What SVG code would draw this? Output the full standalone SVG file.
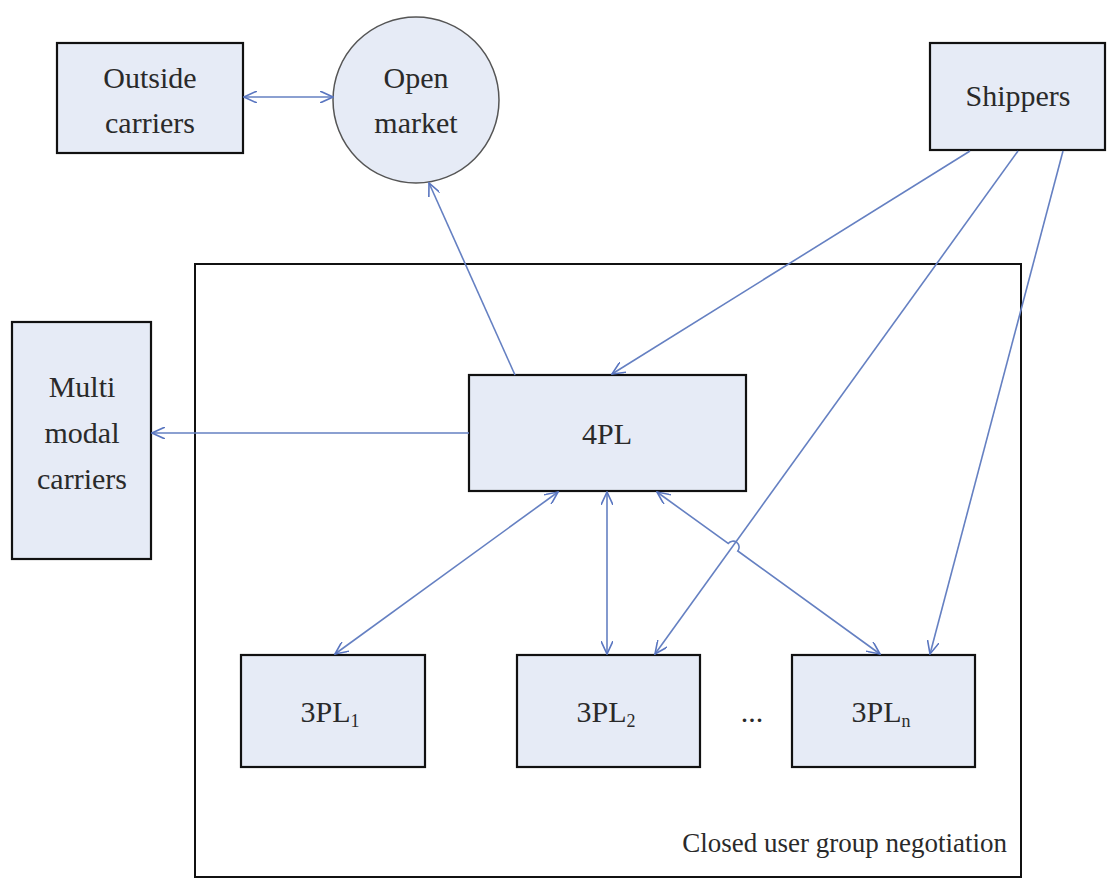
<svg xmlns="http://www.w3.org/2000/svg" width="1107" height="882" viewBox="0 0 1107 882">
  <style>
    .box { fill: #e6ebf6; stroke: #111; stroke-width: 2.2; }
    .frame { fill: none; stroke: #111; stroke-width: 2; }
    .oval { fill: #e6ebf6; stroke: #555; stroke-width: 1.5; }
    .lbl { font-family: "Liberation Serif", "Times New Roman", serif; font-size: 30px; fill: #2a2a2a; text-anchor: middle; }
    .note { font-family: "Liberation Serif", "Times New Roman", serif; font-size: 27px; fill: #2a2a2a; text-anchor: end; }
    .sub { font-size: 18px; }
    .link { fill: none; stroke: #6580c2; stroke-width: 1.6; }
  </style>
  <defs>
    <marker id="ah" viewBox="0 0 14 12" refX="13" refY="6" markerWidth="14" markerHeight="12" markerUnits="userSpaceOnUse" orient="auto-start-reverse">
      <path d="M0,0 L13,6 L0,12" fill="none" stroke="#5a76c0" stroke-width="1.6"/>
    </marker>
  </defs>

  <rect id="rect-background" x="0" y="0" width="1107" height="882" fill="#ffffff"/>

  <!-- closed negotiation frame -->
  <g id="closed-group">
    <rect class="frame" x="195" y="264" width="826" height="613"/>
    <text class="note" x="1007" y="852">Closed user group negotiation</text>
  </g>

  <g id="outside-carriers">
    <rect class="box" x="57" y="43" width="186" height="110"/>
    <text class="lbl" x="150" y="88">Outside</text>
    <text class="lbl" x="150" y="133">carriers</text>
  </g>

  <g id="open-market">
    <circle class="oval" cx="416" cy="100" r="83"/>
    <text class="lbl" x="416" y="88">Open</text>
    <text class="lbl" x="416" y="133">market</text>
  </g>

  <g id="shippers">
    <rect class="box" x="930" y="43" width="175" height="107"/>
    <text class="lbl" x="1018" y="106">Shippers</text>
  </g>

  <g id="multimodal-carriers">
    <rect class="box" x="12" y="322" width="139" height="237"/>
    <text class="lbl" x="82" y="397">Multi</text>
    <text class="lbl" x="82" y="443">modal</text>
    <text class="lbl" x="82" y="489">carriers</text>
  </g>

  <g id="fourpl">
    <rect class="box" x="469" y="375" width="277" height="116"/>
    <text class="lbl" x="607" y="444">4PL</text>
  </g>

  <g id="threepl-1">
    <rect class="box" x="241" y="655" width="184" height="112"/>
    <text class="lbl" x="330" y="722">3PL<tspan class="sub" dy="5">1</tspan></text>
  </g>

  <g id="threepl-2">
    <rect class="box" x="517" y="655" width="183" height="112"/>
    <text class="lbl" x="606" y="722">3PL<tspan class="sub" dy="5">2</tspan></text>
  </g>

  <g id="threepl-ellipsis">
    <text class="lbl" x="752" y="722">...</text>
  </g>

  <g id="threepl-n">
    <rect class="box" x="792" y="655" width="183" height="112"/>
    <text class="lbl" x="881" y="722">3PL<tspan class="sub" dy="5">n</tspan></text>
  </g>

  <g id="connectors">
    <!-- outside carriers <-> open market -->
    <line class="link" x1="244" y1="97" x2="333" y2="97" marker-start="url(#ah)" marker-end="url(#ah)"/>
    <!-- 4PL -> open market -->
    <line class="link" x1="515" y1="375" x2="429" y2="183" marker-end="url(#ah)"/>
    <!-- 4PL -> multimodal carriers -->
    <line class="link" x1="469" y1="433" x2="152" y2="433" marker-end="url(#ah)"/>
    <!-- shippers -> 4PL, 3PL2, 3PLn -->
    <line class="link" x1="970" y1="151" x2="612" y2="374" marker-end="url(#ah)"/>
    <line class="link" x1="1018" y1="151" x2="655" y2="654" marker-end="url(#ah)"/>
    <line class="link" x1="1063" y1="151" x2="930" y2="654" marker-end="url(#ah)"/>
    <!-- 4PL <-> 3PLs -->
    <line class="link" x1="558" y1="492" x2="335" y2="654" marker-start="url(#ah)" marker-end="url(#ah)"/>
    <line class="link" x1="607" y1="492" x2="607" y2="654" marker-start="url(#ah)" marker-end="url(#ah)"/>
    <path class="link" d="M657,492 L728.2,543.5 A6,6 0 0,1 737.8,551 L880,654" marker-start="url(#ah)" marker-end="url(#ah)"/>
  </g>
</svg>
